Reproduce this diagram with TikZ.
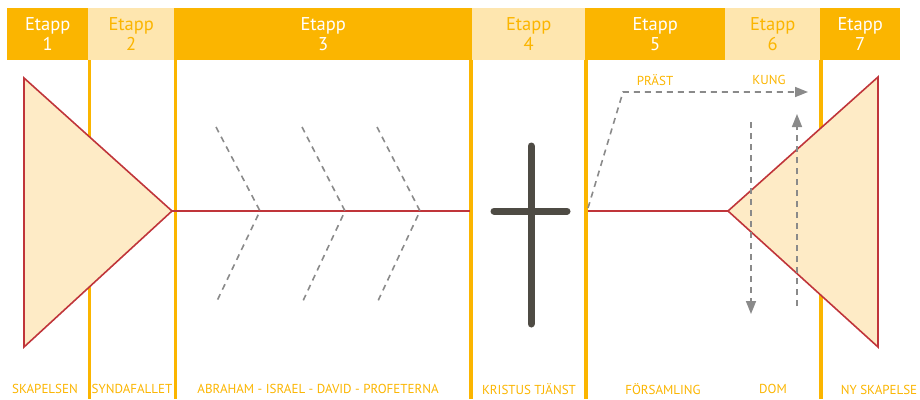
\documentclass[tikz,border=0pt]{standalone}
\usepackage{fontspec}
\setmainfont{PT Sans}
\usetikzlibrary{arrows.meta}
\definecolor{darkor}{HTML}{FBB500}
\definecolor{lightor}{HTML}{FEE6AF}
\definecolor{trifill}{HTML}{FEEBC6}
\definecolor{redline}{HTML}{C0353A}
\definecolor{dgrey}{HTML}{8A8A8A}
\definecolor{crossc}{HTML}{4E4B44}
\begin{document}
\begin{tikzpicture}[x=1pt,y=-1pt,
  cell/.style={inner sep=0pt, minimum height=52pt, anchor=north west, align=center, font=\fontsize{18.5}{20}\selectfont},
  darkcell/.style={cell, fill=darkor, text=white},
  lightcell/.style={cell, fill=lightor, text=darkor},
  vline/.style={draw=darkor, line width=3.5pt},
  tri/.style={draw=redline, fill=trifill, line width=1.6pt, line join=miter},
  spine/.style={draw=redline, line width=1.6pt},
  bone/.style={draw=dgrey, line width=1.6pt, dash pattern=on 6pt off 5pt},
  arr/.style={bone, -{Triangle[length=13pt,width=10pt]}},
  lab/.style={text=darkor, font=\fontsize{13}{14}\selectfont, inner sep=0pt},
  crossbar/.style={draw=crossc, line width=7pt, line cap=round}]
\useasboundingbox (0,0) rectangle (920,399);
% header cells
\node[darkcell,  minimum width=81pt]  (e1) at (7,8)   {Etapp\\1};
\node[lightcell, minimum width=86pt]  (e2) at (88,8)  {Etapp\\2};
\node[darkcell,  minimum width=298pt] (e3) at (174,8) {Etapp\\3};
\node[lightcell, minimum width=113pt] (e4) at (472,8) {Etapp\\4};
\node[darkcell,  minimum width=140pt] (e5) at (585,8) {Etapp\\5};
\node[lightcell, minimum width=95pt]  (e6) at (725,8) {Etapp\\6};
\node[darkcell,  minimum width=80pt]  (e7) at (820,8) {Etapp\\7};
% vertical separators
\draw[vline] (89.5,60) -- (89.5,399);
\draw[vline] (175.5,60) -- (175.5,399);
\draw[vline] (471,60) -- (471,399);
\draw[vline] (586,60) -- (586,399);
\draw[vline] (821,60) -- (821,399);
% spines
\draw[spine] (172,211) -- (470,211);
\draw[spine] (588,211) -- (728,211);
% triangles
\draw[tri] (24,78) -- (24,347) -- (172,211) -- cycle;
\draw[tri] (878,77) -- (878,347) -- (728,211) -- cycle;
% bones
\draw[bone] (216,127) -- (260,211) -- (216,303);
\draw[bone] (302,127) -- (345,211) -- (302,303);
\draw[bone] (377,127) -- (420,211) -- (377,303);
% cross
\draw[crossbar] (531,146) -- (531,324);
\draw[crossbar] (494,211) -- (567,211);
% priest / king arrows
\coordinate (pstart) at (588,208);
\coordinate (pcorner) at (623,92);
\coordinate (pend) at (808,92);
\draw[arr] (pstart) -- (pcorner) -- (pend);
\coordinate (dtop) at (751,122);
\coordinate (dbot) at (751,314);
\draw[arr] (dtop) -- (dbot);
\coordinate (ubot) at (797,306);
\coordinate (utop) at (797,114);
\draw[arr] (ubot) -- (utop);
\node[lab] (prast) at (655,80) {PRÄST};
\node[lab] (kung) at (769,80) {KUNG};
% bottom labels
\node[lab] (l1) at (45,389) {SKAPELSEN};
\node[lab] (l2) at (132,389) {SYNDAFALLET};
\node[lab] (l3) at (318,389) {ABRAHAM - ISRAEL - DAVID - PROFETERNA};
\node[lab] (l4) at (529,389) {KRISTUS TJÄNST};
\node[lab] (l5) at (663,389) {FÖRSAMLING};
\node[lab] (l6) at (773,389) {DOM};
\node[lab] (l7) at (879,390) {NY SKAPELSE};
\end{tikzpicture}
\end{document}
